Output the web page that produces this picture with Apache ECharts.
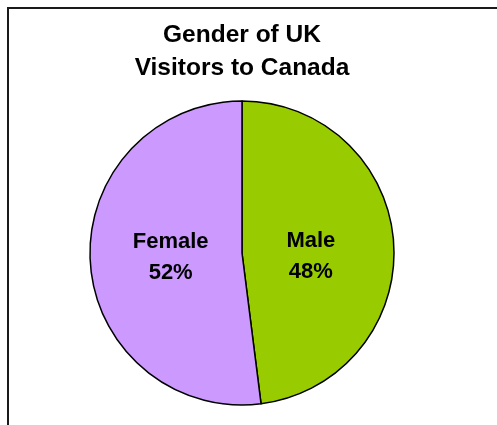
<!DOCTYPE html>
<html>
<head>
<meta charset="utf-8">
<script src="https://cdn.jsdelivr.net/npm/echarts@6/dist/echarts.min.js"></script>
<style>html,body{margin:0;padding:0;background:#fff;}#c{width:497px;height:425px;}</style>
</head>
<body>
<div id="c"></div>
<script>
const titleLines = ['Gender of UK', 'Visitors to Canada'];
const categories = ['Male', 'Female'];
const values = [48, 52];

const sliceColors = {Male: '#99CC00', Female: '#CC99FF'};
const labelOffsets = {Male: [-10, 8.5], Female: [7.5, -1]};

const chart = echarts.init(document.getElementById('c'), null, {renderer: 'canvas'});
chart.setOption({
  backgroundColor: '#ffffff',
  animation: false,
  title: {
    text: titleLines.join('\n'),
    left: 242,
    top: 18.5,
    padding: 0,
    textAlign: 'center',
    textStyle: {
      fontFamily: '"Liberation Sans", Arial, sans-serif',
      fontWeight: 'bold',
      fontSize: 24.5,
      lineHeight: 33,
      color: '#000'
    }
  },
  graphic: [{
    type: 'rect',
    shape: {x: 8, y: 8, width: 700, height: 700},
    style: {fill: 'none', stroke: '#1a1a1a', lineWidth: 2},
    silent: true
  }],
  series: [{
    type: 'pie',
    center: [242, 253],
    radius: [0, 152],
    startAngle: 90,
    clockwise: true,
    avoidLabelOverlap: false,
    itemStyle: {borderColor: '#000', borderWidth: 1.5},
    label: {
      show: true,
      position: 'inside',
      formatter: p => p.name + '\n' + p.value + '%',
      fontFamily: '"Liberation Sans", Arial, sans-serif',
      fontWeight: 'bold',
      fontSize: 22,
      lineHeight: 31,
      color: '#000'
    },
    labelLine: {show: false},
    emphasis: {disabled: true},
    data: categories.map((c, i) => ({
      name: c,
      value: values[i],
      itemStyle: {color: sliceColors[c]},
      label: {offset: labelOffsets[c]}
    }))
  }]
});
</script>
</body>
</html>
